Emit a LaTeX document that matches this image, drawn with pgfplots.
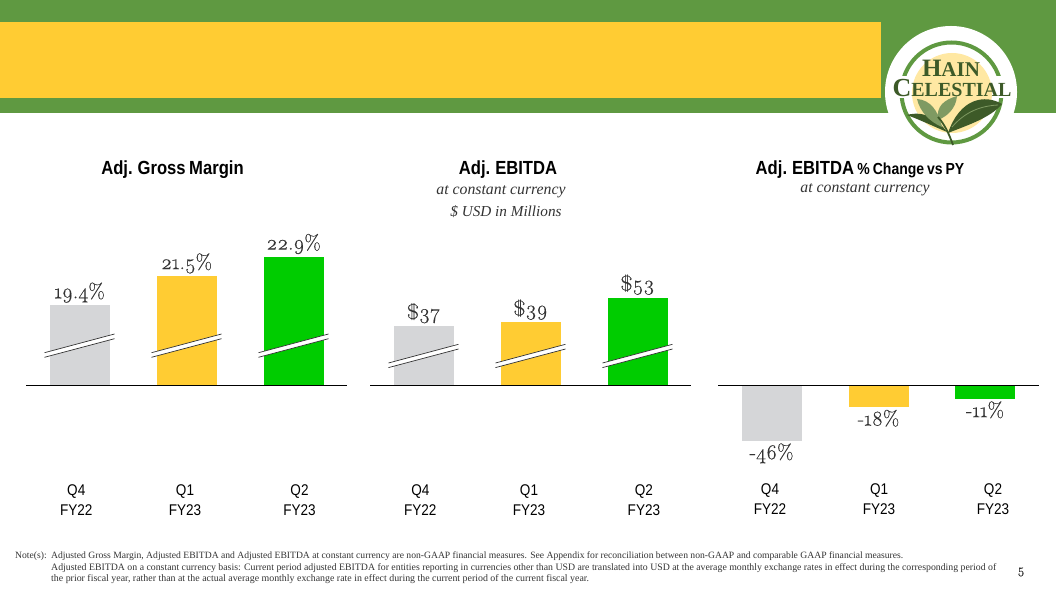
\documentclass[border=0pt]{standalone}
\usepackage{pgfplots}
\pgfplotsset{compat=1.18}
\usepackage{fontspec}
\setmainfont{Liberation Serif}
\newfontfamily\narrow[FakeStretch=0.875,WordSpace=0.75]{Liberation Sans}
\newfontfamily\osf[Numbers=OldStyle,FakeBold=0.35]{Latin Modern Roman}
\definecolor{bandgreen}{HTML}{5F9941}
\definecolor{hcyellow}{HTML}{FFCC33}
\definecolor{hcgrey}{HTML}{D5D6D8}
\definecolor{hcgreen}{HTML}{00CC00}
\definecolor{txt}{HTML}{333333}
\definecolor{leafdark}{HTML}{3D5A28}
\definecolor{leafmid}{HTML}{7F9A62}
\pgfplotsset{
  barbase/.style={
    scale only axis, width=321pt,
    anchor=south west,
    xmin=-0.5, xmax=2.5,
    axis line style={draw=none},
    ytick=\empty,
    major tick length=0pt,
    clip=false,
    ybar, bar width=60pt,
    every node near coord/.append style={font=\osf\fontsize{21}{21}\selectfont, text=txt, inner sep=2.5pt},
    xticklabel style={align=center, font=\narrow\fontsize{15.5}{20}\selectfont, text=black},
    xticklabels={Q4\\FY22,Q1\\FY23,Q2\\FY23},
  },
  onebar/.style={bar shift=0pt, fill=#1, draw=none},
  baseline/.style={black, line width=1pt, sharp plot, forget plot, mark=none},
}
\newcommand{\breakmark}[2]{%
  \fill[white] (#1-35,#2+7) -- (#1+35,#2-11.7) -- (#1+35,#2-7) -- (#1-35,#2+11.6) -- cycle;
  \draw[txt,line width=0.7pt] (#1-35,#2+7) -- (#1+35,#2-11.7);
  \draw[txt,line width=0.7pt] (#1-35,#2+11.6) -- (#1+35,#2-7);
}
\begin{document}
\begin{tikzpicture}
\path[use as bounding box] (0pt,0pt) rectangle (1056pt,594pt);
\begin{scope}[x=1pt,y=-1pt,yshift=594pt]
% header
\fill[bandgreen] (0,0) rectangle (1056,113.5);
\fill[hcyellow] (0,22) rectangle (881,98);
% logo
\fill[white] (951,92) circle (66);
\draw[bandgreen,line width=4pt] (951.5,92.5) circle (50);
\fill[white] (895,76) rectangle (1012,98);
\fill[hcyellow!45!white] (952,93) circle (40);
\node[font=\bfseries\fontsize{25}{25}\selectfont,text=leafdark,inner sep=0pt] at (951,68) {H\fontsize{21}{21}\selectfont AIN};
\node[font=\bfseries\fontsize{26}{26}\selectfont,text=leafdark,inner sep=0pt] at (952,88) {C\fontsize{20}{20}\selectfont ELESTIAL};
\fill[leafdark] (907,115) .. controls (925,110) and (938,120) .. (947,132) .. controls (933,126) and (920,120) .. (907,115) -- cycle;
\fill[leafmid] (917,99) .. controls (930,100) and (938,110) .. (942,127) .. controls (930,122) and (920,112) .. (917,99) -- cycle;
\fill[leafmid] (957,96) .. controls (944,100) and (936,106) .. (938,120) .. controls (948,116) and (956,108) .. (957,96) -- cycle;
\fill[leafdark] (1002,104) .. controls (985,94) and (960,98) .. (948,133) .. controls (968,125) and (990,118) .. (1002,104) -- cycle;
\draw[leafmid,line width=0.8pt] (952,127) .. controls (965,112) and (980,106) .. (998,105);
\draw[leafdark,line width=1.8pt] (938,117) .. controls (945,125) and (949,134) .. (953,145);
\end{scope}
% axis 1
\begin{axis}[barbase, at={(26pt,208.5pt)}, height=150pt, ymin=13.64, ymax=24.43,
  xtick={-0.03,0.986,2.056}, xticklabel style={yshift=-95.5pt}]
\addplot[onebar=hcgrey, nodes near coords={19.4\%}] coordinates {(0,19.4)};
\addplot[onebar=hcyellow, nodes near coords={21.5\%}] coordinates {(1,21.5)};
\addplot[onebar=hcgreen, nodes near coords={22.9\%}] coordinates {(2,22.9)};
\addplot[baseline] coordinates {(-0.5,13.64) (2.5,13.64)};
\end{axis}
% axis 2
\begin{axis}[barbase, at={(370pt,208.5pt)}, height=150pt, ymin=3.6, ymax=87.87,
  xtick={-0.03,0.986,2.06}, xticklabel style={yshift=-95.5pt}]
\addplot[onebar=hcgrey, nodes near coords={\$37}] coordinates {(0,37)};
\addplot[onebar=hcyellow, nodes near coords={\$39}] coordinates {(1,39)};
\addplot[onebar=hcgreen, nodes near coords={\$53}] coordinates {(2,53)};
\addplot[baseline] coordinates {(-0.5,3.6) (2.5,3.6)};
\end{axis}
% axis 3
\begin{axis}[barbase, at={(718pt,124pt)}, height=84.5pt, ymin=-70.4, ymax=0,
  xtick={-0.014,1.005,2.07}, xticklabel style={yshift=-10.5pt}]
\addplot[onebar=hcgrey, nodes near coords={-46\%}] coordinates {(0,-46)};
\addplot[onebar=hcyellow, nodes near coords={-18\%}] coordinates {(1,-18)};
\addplot[onebar=hcgreen, nodes near coords={-11\%}] coordinates {(1.995,-11)};
\addplot[baseline] coordinates {(-0.5,0) (2.5,0)};
\end{axis}
\begin{scope}[x=1pt,y=-1pt,yshift=594pt]
% axis breaks
\foreach \c in {79.5,186.5,293.5} {\breakmark{\c}{345.7}}
\foreach \c in {423.5,530.5,637.5} {\breakmark{\c}{356}}
% titles
\node[font=\narrow\bfseries\fontsize{19}{19}\selectfont] at (172.5,170) {Adj. Gross Margin};
\node[font=\narrow\bfseries\fontsize{19}{19}\selectfont] at (508,170) {Adj. EBITDA};
\node[font=\narrow\bfseries\fontsize{19}{19}\selectfont] at (860,170) {Adj. EBITDA {\fontsize{16}{16}\selectfont\% Change vs PY}};
\node[font=\itshape\fontsize{15.8}{15.8}\selectfont,text=txt] at (501,191.5) {at constant currency};
\node[font=\itshape\fontsize{15.2}{15.2}\selectfont,text=txt] at (506,212) {\$ USD in Millions};
\node[font=\itshape\fontsize{15.8}{15.8}\selectfont,text=txt] at (865,189.5) {at constant currency};
% notes
\node[anchor=west,inner sep=0pt,font=\fontsize{9.63}{10}\selectfont,text=txt] at (15,556) {Note(s):};
\node[anchor=west,inner sep=0pt,font=\fontsize{9.63}{10}\selectfont,text=txt] at (51,556) {Adjusted Gross Margin, Adjusted EBITDA and Adjusted EBITDA at constant currency are non-GAAP financial measures. See Appendix for reconciliation between non-GAAP and comparable GAAP financial measures.};
\node[anchor=west,inner sep=0pt,font=\fontsize{9.81}{10}\selectfont,text=txt] at (51,568) {Adjusted EBITDA on a constant currency basis: Current period adjusted EBITDA for entities reporting in currencies other than USD are translated into USD at the average monthly exchange rates in effect during the corresponding period of};
\node[anchor=west,inner sep=0pt,font=\fontsize{9.9}{10}\selectfont,text=txt] at (51,579.5) {the prior fiscal year, rather than at the actual average monthly exchange rate in effect during the current period of the current fiscal year.};
\node[font=\osf\fontsize{13}{13}\selectfont,text=txt] at (1021,572) {5};
\end{scope}
\end{tikzpicture}
\end{document}
